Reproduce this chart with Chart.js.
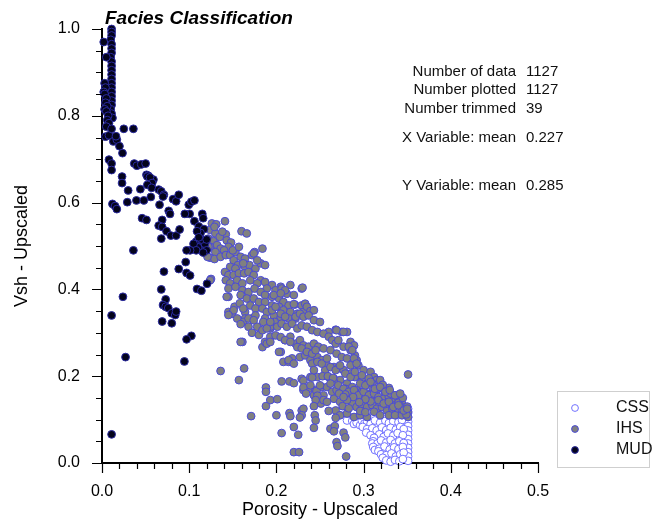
<!DOCTYPE html>
<html>
<head>
<meta charset="utf-8">
<script src="https://cdn.jsdelivr.net/npm/chart.js@4.4.1/dist/chart.umd.min.js"></script>
<style>
  html, body { margin: 0; padding: 0; background: #fff; }
  canvas { display: block; }
</style>
</head>
<body>
<canvas id="faciesChart" width="654" height="523"></canvas>
<script>
// facies classes, in legend order
const classNames = ["CSS", "IHS", "MUD"];

// [porosity, vsh] pairs
const cssPoints = [
  [0.351,0.125],[0.351,0.115],[0.351,0.105],[0.351,0.095],[0.351,0.085],[0.351,0.075],[0.351,0.065],
  [0.351,0.055],[0.351,0.045],[0.351,0.035],[0.351,0.025],[0.351,0.015],[0.351,0.005],
  [0.281,0.098],[0.287,0.097],[0.289,0.090],[0.292,0.093],[0.296,0.087],[0.298,0.098],[0.301,0.091],
  [0.304,0.095],[0.308,0.090],[0.313,0.098],[0.319,0.093],[0.325,0.097],[0.329,0.092],[0.334,0.096],
  [0.340,0.094],[0.344,0.099],[0.299,0.083],[0.304,0.078],[0.310,0.080],[0.315,0.075],[0.321,0.082],
  [0.326,0.076],[0.331,0.081],[0.337,0.077],[0.342,0.083],[0.346,0.078],[0.303,0.070],[0.308,0.064],
  [0.318,0.066],[0.323,0.060],[0.328,0.068],[0.334,0.063],[0.339,0.069],[0.345,0.064],[0.312,0.058],
  [0.311,0.050],[0.310,0.045],[0.316,0.045],[0.320,0.052],[0.326,0.047],[0.331,0.053],[0.336,0.045],
  [0.341,0.050],[0.346,0.046],[0.311,0.037],[0.313,0.030],[0.318,0.033],[0.324,0.038],[0.330,0.031],
  [0.335,0.036],[0.340,0.032],[0.345,0.037],[0.317,0.027],[0.320,0.020],[0.326,0.018],[0.332,0.022],
  [0.337,0.015],[0.342,0.020],[0.346,0.024],[0.322,0.012],[0.326,0.006],[0.331,0.003],[0.336,0.007],
  [0.341,0.004],[0.345,0.009]
];

const ihsPoints = [
  [0.126,0.552],[0.131,0.550],[0.141,0.557],[0.160,0.534],[0.166,0.529],[0.124,0.537],[0.130,0.529],
  [0.122,0.517],[0.128,0.511],[0.124,0.498],[0.132,0.502],[0.136,0.494],[0.142,0.527],[0.143,0.513],
  [0.148,0.508],[0.145,0.498],[0.140,0.490],[0.130,0.486],[0.124,0.473],[0.129,0.470],[0.136,0.475],
  [0.142,0.479],[0.147,0.479],[0.153,0.486],[0.159,0.475],[0.164,0.471],[0.172,0.479],[0.175,0.486],
  [0.184,0.494],[0.151,0.467],[0.156,0.456],[0.147,0.452],[0.153,0.448],[0.164,0.452],[0.169,0.456],
  [0.176,0.448],[0.182,0.460],[0.187,0.456],[0.141,0.440],[0.145,0.433],[0.151,0.433],[0.157,0.437],
  [0.163,0.437],[0.168,0.440],[0.174,0.433],[0.182,0.421],[0.187,0.417],[0.195,0.410],[0.205,0.406],
  [0.216,0.410],[0.125,0.424],[0.142,0.421],[0.147,0.414],[0.155,0.421],[0.161,0.414],[0.170,0.421],
  [0.178,0.414],[0.189,0.402],[0.199,0.398],[0.206,0.402],[0.212,0.390],[0.220,0.387],[0.229,0.402],
  [0.145,0.402],[0.153,0.406],[0.161,0.398],[0.168,0.394],[0.175,0.402],[0.182,0.394],[0.187,0.387],
  [0.195,0.383],[0.203,0.379],[0.208,0.371],[0.214,0.363],[0.221,0.365],[0.229,0.363],[0.145,0.383],
  [0.159,0.387],[0.166,0.379],[0.174,0.379],[0.180,0.371],[0.187,0.371],[0.195,0.363],[0.203,0.360],
  [0.208,0.352],[0.216,0.348],[0.224,0.344],[0.231,0.348],[0.145,0.348],[0.149,0.344],[0.164,0.348],
  [0.170,0.363],[0.176,0.356],[0.184,0.356],[0.189,0.348],[0.197,0.340],[0.205,0.336],[0.214,0.333],
  [0.222,0.333],[0.164,0.333],[0.172,0.333],[0.187,0.333],[0.121,0.475],[0.122,0.498],[0.174,0.483],
  [0.129,0.544],[0.135,0.521],[0.138,0.533],[0.150,0.490],[0.157,0.498],[0.162,0.460],[0.178,0.467],
  [0.162,0.325],[0.168,0.314],[0.178,0.314],[0.185,0.325],[0.161,0.279],[0.184,0.267],[0.187,0.279],
  [0.193,0.291],[0.155,0.333],[0.159,0.320],[0.172,0.300],[0.180,0.295],[0.189,0.275],[0.193,0.279],
  [0.205,0.256],[0.208,0.233],[0.214,0.233],[0.218,0.241],[0.176,0.340],[0.193,0.310],[0.198,0.325],
  [0.152,0.360],[0.158,0.368],[0.230,0.404],[0.210,0.398],[0.197,0.387],[0.205,0.391],[0.220,0.366],
  [0.233,0.367],[0.235,0.360],[0.239,0.350],[0.243,0.352],[0.195,0.352],[0.199,0.360],[0.205,0.344],
  [0.210,0.337],[0.222,0.337],[0.227,0.344],[0.231,0.337],[0.237,0.340],[0.243,0.329],[0.250,0.325],
  [0.260,0.302],[0.268,0.307],[0.275,0.302],[0.281,0.302],[0.285,0.279],[0.289,0.271],[0.193,0.314],
  [0.201,0.314],[0.206,0.321],[0.212,0.314],[0.218,0.321],[0.224,0.310],[0.229,0.317],[0.235,0.314],
  [0.241,0.306],[0.247,0.302],[0.254,0.298],[0.260,0.291],[0.264,0.283],[0.268,0.275],[0.271,0.283],
  [0.277,0.268],[0.285,0.260],[0.290,0.248],[0.292,0.237],[0.203,0.256],[0.210,0.283],[0.216,0.291],
  [0.222,0.275],[0.227,0.283],[0.231,0.271],[0.237,0.268],[0.243,0.275],[0.248,0.268],[0.254,0.264],
  [0.262,0.260],[0.269,0.252],[0.275,0.244],[0.281,0.241],[0.287,0.229],[0.294,0.225],[0.300,0.214],
  [0.308,0.210],[0.312,0.198],[0.315,0.191],[0.214,0.237],[0.220,0.229],[0.227,0.244],[0.233,0.248],
  [0.239,0.237],[0.247,0.244],[0.252,0.237],[0.258,0.225],[0.266,0.221],[0.271,0.218],[0.277,0.214],
  [0.285,0.206],[0.290,0.198],[0.298,0.191],[0.304,0.183],[0.310,0.175],[0.315,0.168],[0.206,0.188],
  [0.215,0.188],[0.220,0.184],[0.229,0.194],[0.231,0.190],[0.239,0.198],[0.247,0.198],[0.256,0.214],
  [0.260,0.198],[0.266,0.194],[0.273,0.191],[0.281,0.183],[0.287,0.175],[0.292,0.168],[0.298,0.164],
  [0.304,0.160],[0.312,0.156],[0.231,0.168],[0.237,0.171],[0.245,0.168],[0.252,0.175],[0.258,0.175],
  [0.264,0.164],[0.269,0.168],[0.279,0.171],[0.285,0.160],[0.294,0.152],[0.254,0.156],[0.243,0.156],
  [0.351,0.204],[0.283,0.268],[0.287,0.260],[0.289,0.241],[0.285,0.225],[0.292,0.229],[0.298,0.202],
  [0.306,0.195],[0.310,0.183],[0.319,0.191],[0.329,0.173],[0.266,0.187],[0.271,0.179],[0.277,0.171],
  [0.283,0.164],[0.289,0.168],[0.294,0.156],[0.300,0.164],[0.306,0.156],[0.312,0.160],[0.317,0.152],
  [0.323,0.148],[0.329,0.152],[0.334,0.145],[0.340,0.148],[0.344,0.137],[0.266,0.148],[0.273,0.141],
  [0.281,0.148],[0.287,0.137],[0.292,0.129],[0.298,0.133],[0.304,0.129],[0.310,0.133],[0.315,0.125],
  [0.321,0.129],[0.327,0.121],[0.333,0.125],[0.338,0.118],[0.344,0.121],[0.351,0.118],[0.351,0.106],
  [0.268,0.121],[0.273,0.110],[0.281,0.114],[0.289,0.106],[0.296,0.110],[0.304,0.106],[0.312,0.118],
  [0.319,0.110],[0.329,0.110],[0.336,0.110],[0.344,0.110],[0.325,0.136],[0.318,0.141],[0.336,0.133],
  [0.347,0.128],[0.340,0.139],[0.331,0.160],[0.324,0.166],[0.316,0.171],[0.338,0.156],[0.345,0.150],
  [0.350,0.130],[0.322,0.180],[0.308,0.142],[0.302,0.147],[0.295,0.140],[0.288,0.152],[0.279,0.158],
  [0.272,0.160],[0.276,0.131],[0.283,0.126],[0.296,0.120],[0.302,0.117],[0.349,0.112],
  [0.159,0.279],[0.163,0.218],[0.157,0.191],[0.171,0.108],[0.188,0.174],[0.188,0.164],[0.193,0.145],
  [0.201,0.147],[0.188,0.131],[0.200,0.110],[0.206,0.069],[0.220,0.025],[0.226,0.025],[0.215,0.115],
  [0.216,0.108],[0.220,0.083],[0.225,0.065],[0.229,0.121],[0.231,0.125],[0.229,0.110],[0.244,0.110],
  [0.245,0.098],[0.243,0.081],[0.262,0.079],[0.267,0.085],[0.266,0.073],[0.269,0.048],[0.270,0.039],
  [0.277,0.070],[0.279,0.059],[0.280,0.015],[0.231,0.174],[0.234,0.160],[0.239,0.179],[0.241,0.197],
  [0.246,0.166],[0.247,0.155],[0.251,0.137],[0.254,0.145],[0.258,0.141],[0.241,0.229],[0.243,0.214],
  [0.253,0.200],[0.259,0.200],[0.265,0.196],[0.250,0.179],[0.262,0.183],[0.245,0.145],[0.243,0.131],
  [0.260,0.120],[0.281,0.145],[0.277,0.152],[0.268,0.104],[0.227,0.105],[0.136,0.212],
  [0.151,0.352],[0.162,0.356],[0.168,0.333],[0.174,0.329],[0.184,0.306],[0.189,0.310],[0.199,0.294],
  [0.205,0.290],[0.193,0.325],[0.210,0.283],[0.216,0.279],[0.224,0.267],[0.229,0.264],[0.235,0.256],
  [0.241,0.252],[0.245,0.260],[0.247,0.233],[0.252,0.229],[0.258,0.241],[0.262,0.221],[0.268,0.214],
  [0.273,0.225],[0.279,0.206],[0.285,0.198],[0.290,0.210],[0.296,0.183],[0.302,0.179],[0.308,0.187],
  [0.313,0.171],[0.319,0.175],[0.325,0.164],[0.330,0.168],[0.336,0.156],[0.342,0.160],[0.317,0.145],
  [0.323,0.137],[0.329,0.141],[0.334,0.129],[0.340,0.133],[0.346,0.121],[0.350,0.125],
  [0.269,0.306],[0.277,0.302],[0.143,0.383],[0.145,0.341],[0.124,0.421]
];

const mudPoints = [
  [0.011,1.000],[0.011,0.993],[0.011,0.985],[0.010,0.975],[0.011,0.965],[0.011,0.955],[0.011,0.945],
  [0.010,0.935],[0.011,0.925],[0.011,0.915],[0.011,0.905],[0.011,0.895],[0.011,0.885],[0.011,0.875],
  [0.011,0.865],[0.011,0.855],[0.011,0.845],[0.011,0.835],[0.011,0.825],[0.010,0.815],[0.011,0.805],
  [0.012,0.795],[0.002,0.970],[0.005,0.935],[0.003,0.875],[0.004,0.865],[0.002,0.855],[0.003,0.850],
  [0.005,0.840],[0.004,0.830],[0.006,0.822],[0.003,0.815],[0.005,0.810],[0.007,0.800],[0.006,0.790],
  [0.008,0.783],[0.005,0.775],[0.004,0.752],[0.008,0.755],[0.011,0.770],[0.025,0.770],[0.036,0.770],
  [0.013,0.741],[0.017,0.745],[0.016,0.753],[0.020,0.730],[0.0235,0.714],[0.008,0.699],[0.011,0.690],
  [0.011,0.675],[0.037,0.690],[0.040,0.685],[0.045,0.688],[0.050,0.690],[0.051,0.664],[0.053,0.662],
  [0.059,0.653],[0.023,0.660],[0.023,0.645],[0.030,0.628],[0.044,0.631],[0.052,0.660],[0.055,0.658],
  [0.0575,0.645],[0.052,0.641],[0.057,0.634],[0.065,0.630],[0.068,0.626],[0.071,0.618],[0.070,0.614],
  [0.0815,0.608],[0.085,0.603],[0.088,0.618],[0.012,0.597],[0.015,0.592],[0.017,0.585],[0.029,0.601],
  [0.0395,0.605],[0.048,0.605],[0.056,0.613],[0.066,0.595],[0.0765,0.581],[0.078,0.574],[0.0995,0.595],
  [0.1025,0.602],[0.106,0.605],[0.1005,0.574],[0.095,0.574],[0.115,0.574],[0.116,0.564],[0.046,0.564],
  [0.051,0.560],[0.069,0.560],[0.106,0.557],[0.065,0.547],[0.069,0.544],[0.074,0.534],[0.079,0.524],
  [0.085,0.524],[0.089,0.538],[0.068,0.517],[0.111,0.545],[0.117,0.539],[0.113,0.530],[0.109,0.534],
  [0.108,0.510],[0.112,0.505],[0.115,0.500],[0.117,0.495],[0.113,0.490],[0.110,0.497],[0.118,0.505],
  [0.105,0.505],[0.108,0.490],[0.120,0.490],[0.114,0.515],[0.120,0.515],[0.116,0.485],[0.111,0.520],
  [0.036,0.490],[0.101,0.490],[0.097,0.490],[0.096,0.463],[0.071,0.441],[0.088,0.447],[0.097,0.438],
  [0.101,0.432],[0.068,0.400],[0.109,0.401],[0.114,0.397],[0.1205,0.413],[0.024,0.383],[0.073,0.377],
  [0.070,0.364],[0.073,0.360],[0.076,0.357],[0.080,0.345],[0.084,0.341],[0.085,0.349],[0.011,0.340],
  [0.069,0.326],[0.080,0.322],[0.1025,0.293],[0.097,0.285],[0.0945,0.234],[0.027,0.244],[0.011,0.066]
];

const xTicks = [0, 0.1, 0.2, 0.3, 0.4, 0.5];
const yTicks = [0, 0.2, 0.4, 0.6, 0.8, 1.0];

const statLabels = ["Number of data", "Number plotted", "Number trimmed", "X Variable: mean", "Y Variable: mean"];
const statValues = ["1127", "1127", "39", "0.227", "0.285"];

const FONT = '"Liberation Sans", Arial, Helvetica, sans-serif';
Chart.defaults.font.family = FONT;
Chart.defaults.color = "#000";

const classStyle = {
  CSS: { bg: "#ffffff", border: "#7272ff" },
  IHS: { bg: "#808080", border: "#4a4ad8" },
  MUD: { bg: "#04041c", border: "#2a2aa0" }
};

function toXY(pts) {
  return pts.map(p => ({ x: p[0], y: p[1] }));
}

// minor + major tick marks (major every 0.1 / 0.2, minor every 0.02 / 0.05)
const tickMarks = {
  id: "tickMarks",
  afterDraw(chart) {
    const { ctx, scales: { x, y } } = chart;
    ctx.save();
    ctx.strokeStyle = "#000";
    ctx.lineWidth = 1.2;
    ctx.beginPath();
    for (let i = 0; i <= 25; i++) {
      const px = Math.round(x.getPixelForValue(i * 0.02)) + 0.5;
      const len = i % 5 === 0 ? 10 : 6;
      ctx.moveTo(px, y.bottom);
      ctx.lineTo(px, y.bottom + len);
    }
    for (let i = 0; i <= 20; i++) {
      const py = Math.round(y.getPixelForValue(i * 0.05)) + 0.5;
      const len = i % 4 === 0 ? 10 : 6;
      ctx.moveTo(x.left, py);
      ctx.lineTo(x.left - len, py);
    }
    ctx.stroke();
    ctx.restore();
  }
};

// title, statistics block and boxed legend
const annotations = {
  id: "annotations",
  afterDraw(chart) {
    const ctx = chart.ctx;
    ctx.save();

    ctx.fillStyle = "#000";
    ctx.font = "italic bold 19px " + FONT;
    ctx.textAlign = "left";
    ctx.textBaseline = "alphabetic";
    ctx.fillText("Facies Classification", 105, 24);

    const rowY = [72, 90, 109, 138, 186];
    ctx.font = "15px " + FONT;
    ctx.textBaseline = "middle";
    ctx.fillStyle = "#111";
    statLabels.forEach((label, i) => {
      ctx.textAlign = "right";
      ctx.fillText(label, 516, rowY[i]);
      ctx.textAlign = "left";
      ctx.fillText(statValues[i], 526, rowY[i]);
    });

    ctx.strokeStyle = "#cfcfcf";
    ctx.lineWidth = 1;
    ctx.strokeRect(557.5, 391.5, 92, 76);
    ctx.font = "16px " + FONT;
    const legY = [408, 429, 450];
    classNames.forEach((name, i) => {
      const s = classStyle[name];
      ctx.beginPath();
      ctx.arc(575, legY[i], 3.4, 0, Math.PI * 2);
      ctx.fillStyle = s.bg;
      ctx.fill();
      ctx.strokeStyle = s.border;
      ctx.lineWidth = 1;
      ctx.stroke();
      ctx.fillStyle = "#111";
      ctx.textAlign = "left";
      ctx.fillText(name, 616, legY[i]);
    });
    ctx.restore();
  }
};

const seriesData = { CSS: cssPoints, IHS: ihsPoints, MUD: mudPoints };

new Chart(document.getElementById("faciesChart"), {
  type: "scatter",
  data: {
    datasets: classNames.map((name, i) => ({
      label: name,
      data: toXY(seriesData[name]),
      backgroundColor: classStyle[name].bg,
      borderColor: classStyle[name].border,
      borderWidth: 1,
      pointRadius: 3.9,
      pointHoverRadius: 3.9,
      order: classNames.length - i,
      clip: false
    }))
  },
  options: {
    responsive: false,
    animation: false,
    layout: { padding: { left: 0, top: 29, right: 116, bottom: 0 } },
    plugins: {
      legend: { display: false },
      tooltip: { enabled: false }
    },
    scales: {
      x: {
        type: "linear",
        min: 0,
        max: 0.5,
        afterBuildTicks: s => { s.ticks = xTicks.map(v => ({ value: v })); },
        afterFit: s => { s.height = 60; },
        ticks: {
          padding: 11,
          font: { size: 16 },
          color: "#000",
          callback: v => Number(v).toFixed(1)
        },
        grid: { display: false },
        border: { display: true, color: "#000", width: 2 },
        title: {
          display: true,
          text: "Porosity - Upscaled",
          font: { size: 18 },
          color: "#000",
          padding: { top: 0, bottom: 2 }
        }
      },
      y: {
        type: "linear",
        min: 0,
        max: 1,
        afterBuildTicks: s => { s.ticks = yTicks.map(v => ({ value: v })); },
        afterFit: s => { s.width = 102; },
        ticks: {
          padding: 14,
          font: { size: 16 },
          color: "#000",
          callback: v => Number(v).toFixed(1)
        },
        grid: { display: false },
        border: { display: true, color: "#000", width: 2 },
        title: {
          display: true,
          text: "Vsh - Upscaled",
          font: { size: 18 },
          color: "#000",
          padding: { top: 11, bottom: 0 }
        }
      }
    }
  },
  plugins: [tickMarks, annotations]
});
</script>
</body>
</html>
